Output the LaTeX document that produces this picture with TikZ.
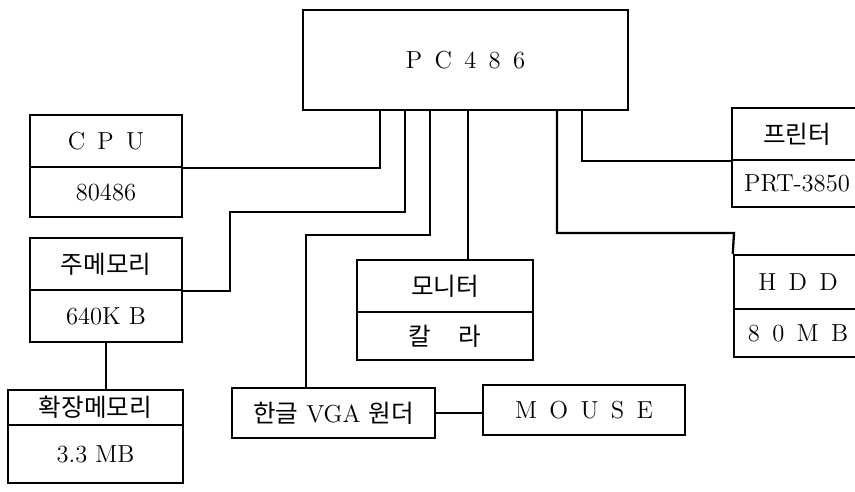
\documentclass[tikz,border=0pt]{standalone}
\usepackage{fontspec}
\newfontfamily\kr{Noto Sans CJK KR}
\usepackage{tikz}
\usetikzlibrary{fit}
\newcommand{\lsp}{\hspace{0.5em}}

\begin{document}
\begin{tikzpicture}[x=0.02cm, y=-0.02cm,
    box/.style={draw, line width=1.4pt, inner sep=0pt},
    every label/.style={font=\fontsize{14}{16}\selectfont, inner sep=0pt},
    wire/.style={line width=1.3pt}]
  \useasboundingbox (0,0) rectangle (855,491);
  \clip (0,0) rectangle (855,491);
  % main unit
  \node[box, fit={(303,10) (628,110)}, label=center:{P\lsp C\lsp 4\lsp 8\lsp 6}] (pc) {};
  % left column
  \node[box, fit={(30,115) (182,167)}, label=center:{C\lsp P\lsp U}] (cpu) {};
  \node[box, fit={(30,167) (182,217)}, label=center:{80486}] (cpuv) {};
  \node[box, fit={(30,238) (182,290)}, label=center:{\kr 주메모리}] (mem) {};
  \node[box, fit={(30,290) (182,342)}, label=center:{640K B}] (memv) {};
  \node[box, fit={(8,390) (183,425)}, label=center:{\kr 확장메모리}] (ext) {};
  \node[box, fit={(8,425) (183,483)}, label=center:{3.3 MB}] (extv) {};
  % middle
  \node[box, fit={(357,260) (533,312)}, label=center:{\kr 모니터}] (mon) {};
  \node[box, fit={(357,312) (533,360)}, label=center:{\kr 칼\hspace{1.1em}라}] (monv) {};
  \node[box, fit={(232,388) (435,438)}, label=center:{{\kr 한글} VGA {\kr 원더}}] (vga) {};
  \node[box, fit={(483,385) (685,435)}, label=center:{M\lsp O\lsp U\lsp S\lsp E}] (mouse) {};
  % right column, cut at the page edge
  \node[box, fit={(732,108) (862,160)}, label=center:{\kr 프린터}] (prt) {};
  \node[box, fit={(732,160) (862,207)}, label=center:{PRT-3850}] (prtv) {};
  \node[box, fit={(734,255) (862,309)}, label=center:{H\lsp D\lsp D}] (hdd) {};
  \node[box, fit={(734,309) (862,357)}, label=center:{8\lsp 0\lsp M\lsp B}] (hddv) {};
  % taps on the main unit
  \coordinate (p1) at (380,0); \coordinate (p2) at (405,0); \coordinate (p3) at (430,0);
  \coordinate (p4) at (468,0); \coordinate (p5) at (557,0); \coordinate (p6) at (582,0);
  \coordinate (b2) at (230,212); \coordinate (b3) at (306,235); \coordinate (b5) at (734,233);
  \draw[wire] (pc.south -| p1) |- (cpu.south east);
  \draw[wire] (pc.south -| p2) |- (b2) |- (mem.south east);
  \draw[wire] (pc.south -| p3) |- (b3) -- (vga.north -| b3);
  \draw[wire] (pc.south -| p4) -- (mon.north -| p4);
  \draw[wire] (pc.south -| p5) |- (b5) -- (hdd.north west);
  \draw[wire] (pc.south -| p6) |- (prt.south west);
  \draw[wire] (memv.south) -- (memv.south |- ext.north);
  \draw[wire] (vga.east) -- (vga.east -| mouse.west);
\end{tikzpicture}
\end{document}
